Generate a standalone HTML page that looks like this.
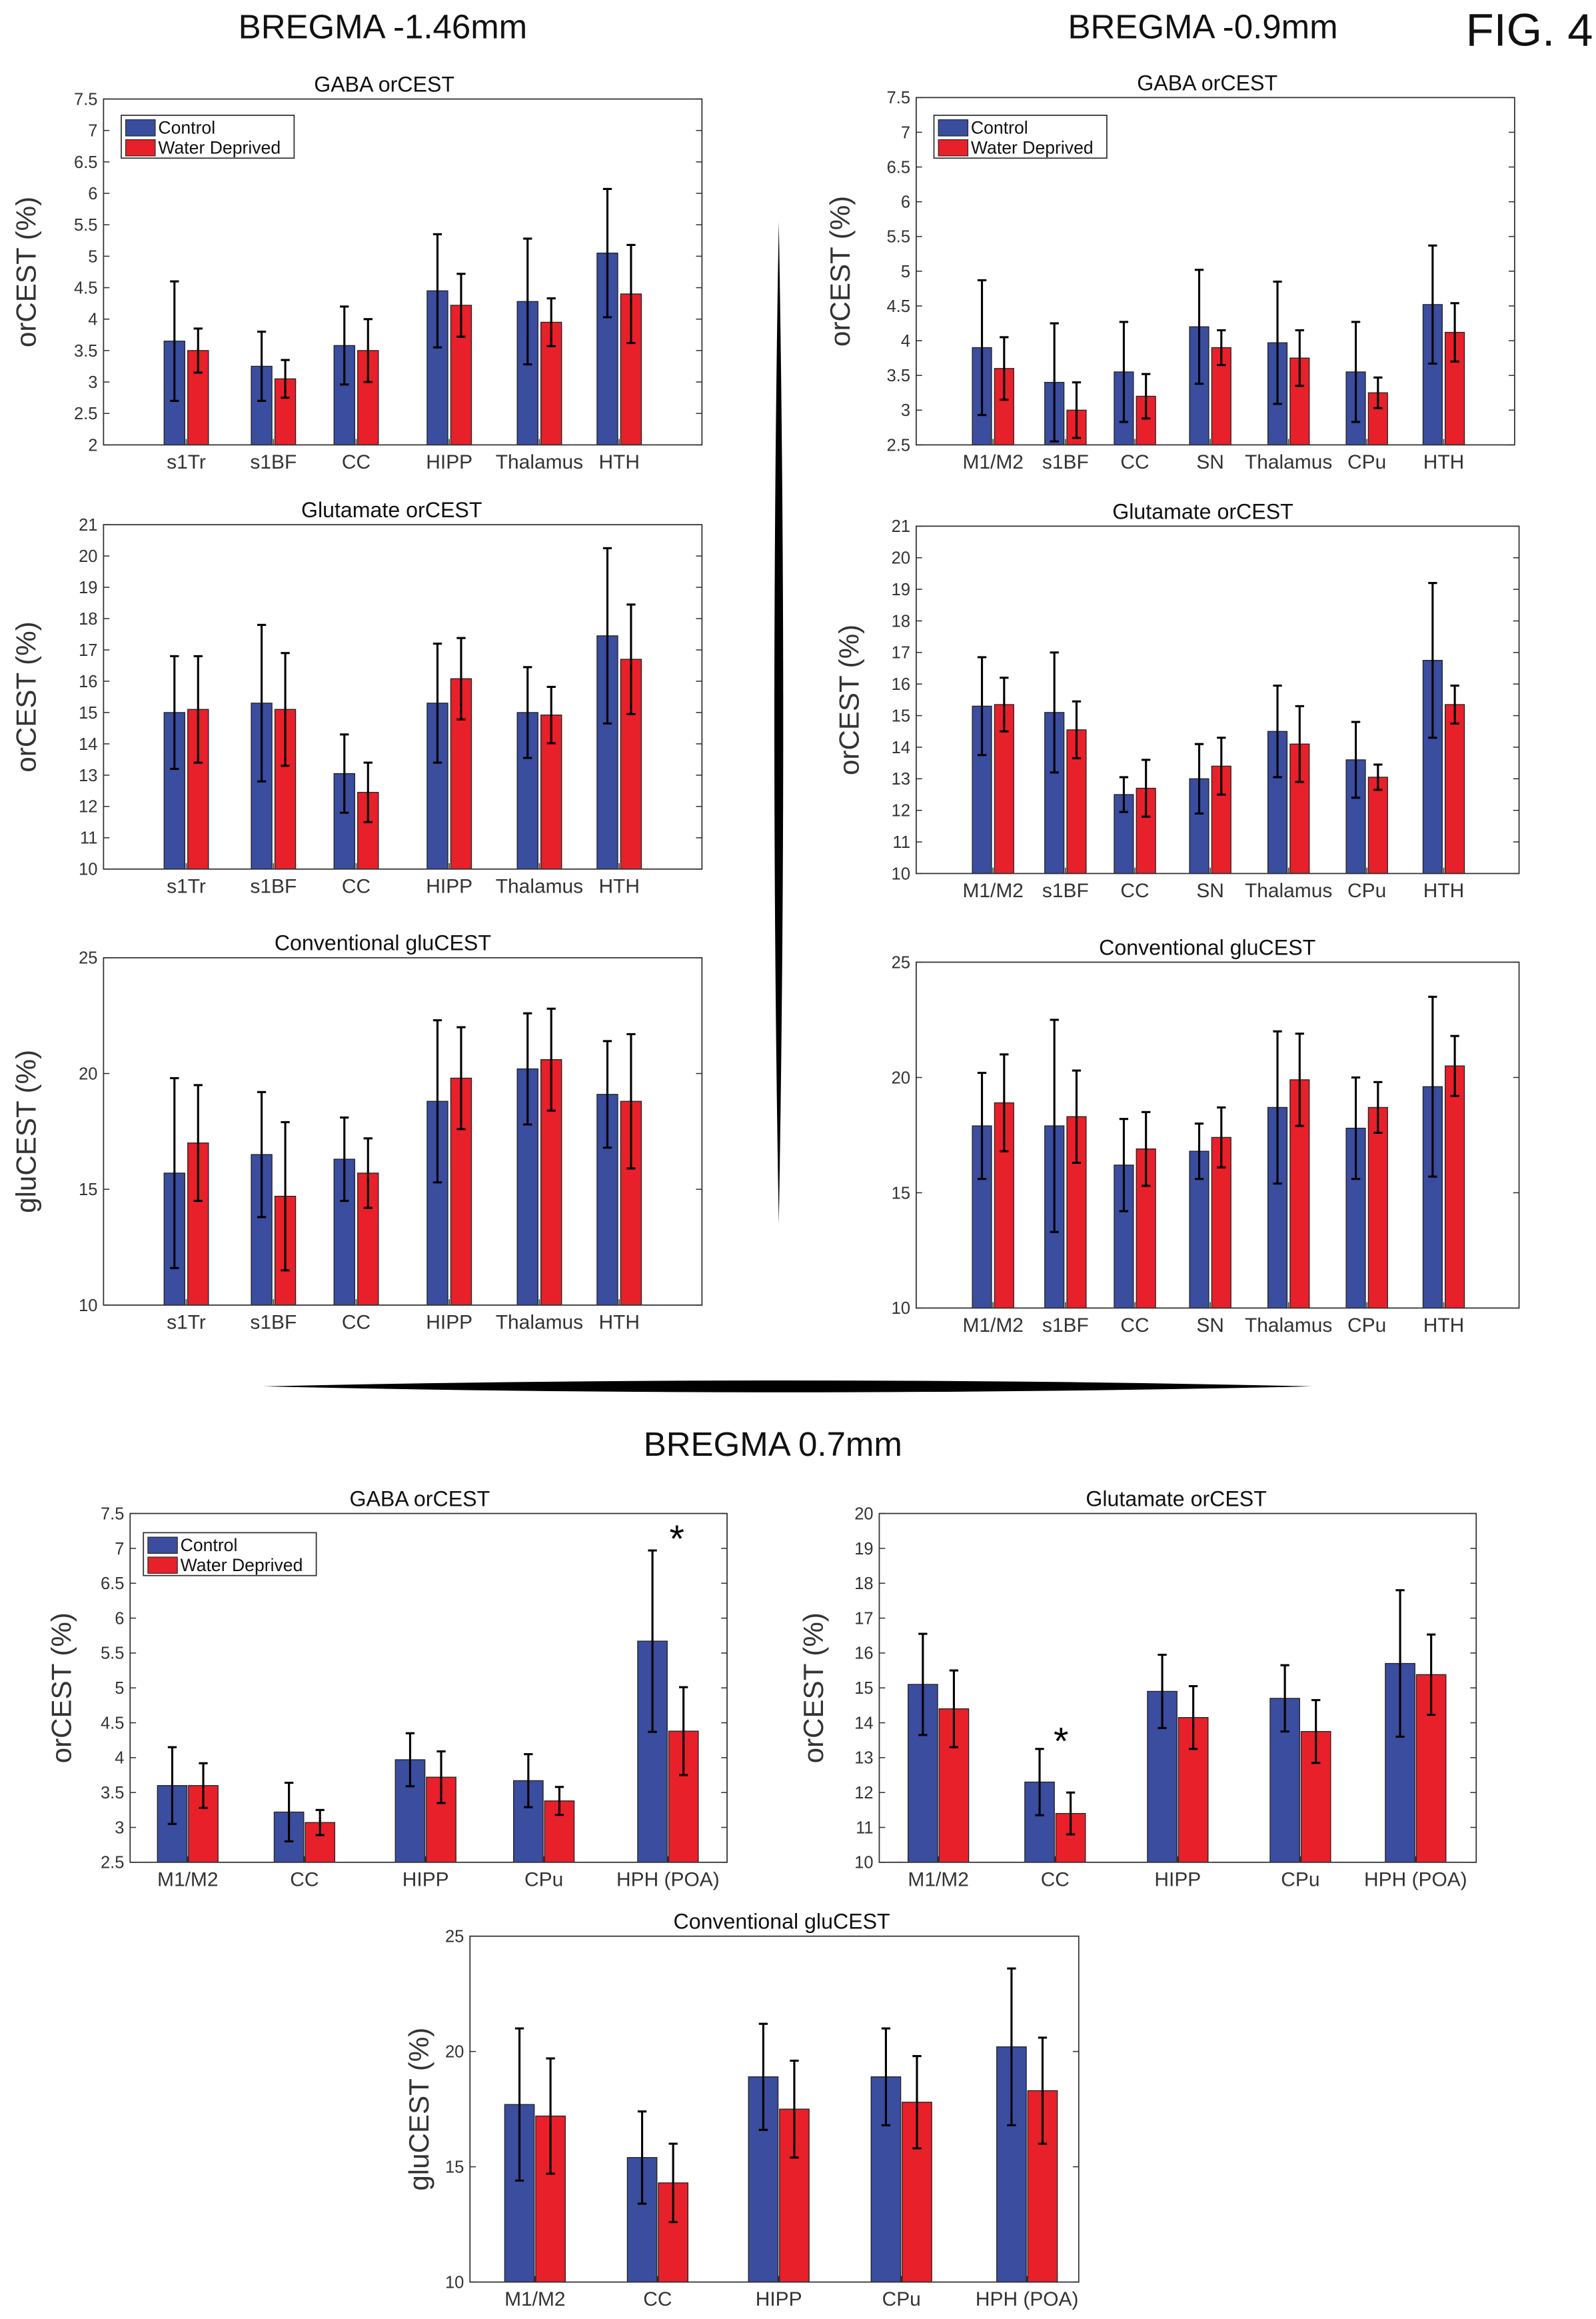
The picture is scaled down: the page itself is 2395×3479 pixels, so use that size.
<!DOCTYPE html>
<html><head><meta charset="utf-8">
<style>
html,body{margin:0;padding:0;background:#fff;}
svg{display:block;}
text{font-family:"Liberation Sans",sans-serif;}
</style></head>
<body>
<svg id="fig" width="2395" height="3479" viewBox="0 0 1080 1569" xmlns="http://www.w3.org/2000/svg">
<rect x="0" y="0" width="1080" height="1569" fill="#fff"/>
<text x="259" y="26" font-size="23" text-anchor="middle" fill="#111">BREGMA -1.46mm</text>
<text x="814" y="26" font-size="23" text-anchor="middle" fill="#111">BREGMA -0.9mm</text>
<text x="1035" y="31" font-size="31" text-anchor="middle" fill="#111">FIG. 4</text>
<text x="523" y="985" font-size="23" text-anchor="middle" fill="#111">BREGMA 0.7mm</text>
<path d="M527,150 Q533,489 527,828 Q521,489 527,150Z" fill="#000"/>
<path d="M178,938 Q533,930 888,938 Q533,946 178,938Z" fill="#000"/>
</svg>
<script>
// ---- Panel data ----
const catsA = ["s1Tr","s1BF","CC","HIPP","Thalamus","HTH"];
const catsB = ["M1/M2","s1BF","CC","SN","Thalamus","CPu","HTH"];
const catsC = ["M1/M2","CC","HIPP","CPu","HPH (POA)"];

const a1Ctrl = [3.65,3.25,3.58,4.45,4.28,5.05];
const a1CtrlErr = [0.95,0.55,0.62,0.9,1.0,1.02];
const a1Wd = [3.5,3.05,3.5,4.22,3.95,4.4];
const a1WdErr = [0.35,0.3,0.5,0.5,0.38,0.78];

const a2Ctrl = [15,15.3,13.05,15.3,15,17.45];
const a2CtrlErr = [1.8,2.5,1.25,1.9,1.45,2.8];
const a2Wd = [15.1,15.1,12.45,16.08,14.92,16.7];
const a2WdErr = [1.7,1.8,0.95,1.3,0.9,1.75];

const a3Ctrl = [15.7,16.5,16.3,18.8,20.2,19.1];
const a3CtrlErr = [4.1,2.7,1.8,3.5,2.4,2.3];
const a3Wd = [17,14.7,15.7,19.8,20.6,18.8];
const a3WdErr = [2.5,3.2,1.5,2.2,2.2,2.9];

const b1Ctrl = [3.9,3.4,3.55,4.2,3.97,3.55,4.52];
const b1CtrlErr = [0.97,0.85,0.72,0.82,0.88,0.72,0.85];
const b1Wd = [3.6,3.0,3.2,3.9,3.75,3.25,4.12];
const b1WdErr = [0.45,0.4,0.32,0.25,0.4,0.22,0.42];

const b2Ctrl = [15.3,15.1,12.5,13,14.5,13.6,16.75];
const b2CtrlErr = [1.55,1.9,0.55,1.1,1.45,1.2,2.45];
const b2Wd = [15.35,14.55,12.7,13.4,14.1,13.05,15.35];
const b2WdErr = [0.85,0.9,0.9,0.9,1.2,0.4,0.6];

const b3Ctrl = [17.9,17.9,16.2,16.8,18.7,17.8,19.6];
const b3CtrlErr = [2.3,4.6,2,1.2,3.3,2.2,3.9];
const b3Wd = [18.9,18.3,16.9,17.4,19.9,18.7,20.5];
const b3WdErr = [2.1,2,1.6,1.3,2,1.1,1.3];

const c1Ctrl = [3.6,3.22,3.97,3.67,5.67];
const c1CtrlErr = [0.55,0.42,0.38,0.38,1.3];
const c1Wd = [3.6,3.07,3.72,3.38,4.38];
const c1WdErr = [0.32,0.18,0.37,0.2,0.63];

const c2Ctrl = [15.1,12.3,14.9,14.7,15.7];
const c2CtrlErr = [1.45,0.95,1.05,0.95,2.1];
const c2Wd = [14.4,11.4,14.15,13.75,15.38];
const c2WdErr = [1.1,0.6,0.9,0.9,1.15];

const c3Ctrl = [17.7,15.4,18.9,18.9,20.2];
const c3CtrlErr = [3.3,2,2.3,2.1,3.4];
const c3Wd = [17.2,14.3,17.5,17.8,18.3];
const c3WdErr = [2.5,1.7,2.1,2,2.3];

const ticksGabaA = [2,2.5,3,3.5,4,4.5,5,5.5,6,6.5,7,7.5];
const ticksGaba = [2.5,3,3.5,4,4.5,5,5.5,6,6.5,7,7.5];
const ticksGlu21 = [10,11,12,13,14,15,16,17,18,19,20,21];
const ticksGlu20 = [10,11,12,13,14,15,16,17,18,19,20];
const ticksConv = [10,15,20,25];

const NS="http://www.w3.org/2000/svg";
const svg=document.getElementById('fig');
function mk(tag,attrs,parent){const e=document.createElementNS(NS,tag);for(const k in attrs)e.setAttribute(k,attrs[k]);(parent||svg).appendChild(e);return e;}
const BLUE="#3a4d9f", RED="#e8202a";

function panel(p){
  const g=mk('g',{});
  
  
  const ymin=p.ticks[0], ymax=p.ticks[p.ticks.length-1];
  const ys=v=>p.y1-(v-ymin)/(ymax-ymin)*(p.y1-p.y0);
  const t=mk('text',{x:p.tx,y:p.y0-5,'font-size':14.5,'text-anchor':'middle',fill:'#111'},g);
  t.textContent=p.title;
  
  
  const yl=mk('text',{x:0,y:0,'font-size':19,'text-anchor':'middle',fill:'#333',transform:`translate(${p.ylx},${(p.y0+p.y1)/2}) rotate(-90)`},g);
  yl.textContent=p.ylabel;
  
  
  p.ticks.forEach(v=>{
    const y=ys(v);
    mk('line',{x1:p.x0,x2:p.x0+4,y1:y,y2:y,stroke:'#333','stroke-width':0.7},g);
    mk('line',{x1:p.x1,x2:p.x1-4,y1:y,y2:y,stroke:'#333','stroke-width':0.7},g);
    const tl=mk('text',{x:p.x0-4,y:y+4,'font-size':11.5,'text-anchor':'end',fill:'#333'},g);
    tl.textContent=String(v);
    
    
  });
  p.cats.forEach((c,i)=>{
    const cx=p.cx[i];
    const series=[[p.ctrl,p.ctrlErr,BLUE,-p.off,'control'],[p.wd,p.wdErr,RED,p.off,'water-deprived']];
    series.forEach(s=>{
      const v=s[0][i], e=s[1][i], x=cx+s[3]-p.bw/2;
      const r=mk('rect',{x:x,y:ys(v),width:p.bw,height:p.y1-ys(v),fill:s[2],stroke:'#222','stroke-width':0.6},g);
      
      
      const bx=cx+s[3];
      mk('line',{x1:bx,x2:bx,y1:ys(v+e),y2:ys(v-e),stroke:'#000','stroke-width':1.4},g);
      mk('line',{x1:bx-3,x2:bx+3,y1:ys(v+e),y2:ys(v+e),stroke:'#000','stroke-width':1.4},g);
      mk('line',{x1:bx-3,x2:bx+3,y1:ys(v-e),y2:ys(v-e),stroke:'#000','stroke-width':1.4},g);
    });
    mk('line',{x1:cx,x2:cx,y1:p.y1,y2:p.y1-4,stroke:'#333','stroke-width':0.7},g);
    const cl=mk('text',{x:cx,y:p.y1+16,'font-size':13.5,'text-anchor':'middle',fill:'#333'},g);
    cl.textContent=c;
    
    
  });
  mk('rect',{x:p.x0,y:p.y0,width:p.x1-p.x0,height:p.y1-p.y0,fill:'none',stroke:'#333','stroke-width':0.8},g);
  if(p.legend){
    const [lx,ly]=p.legend;
    const lg=mk('g',{},g);
    
    
    mk('rect',{x:lx,y:ly,width:117,height:29,fill:'#fff',stroke:'#333','stroke-width':0.8},lg);
    [[BLUE,'Control'],[RED,'Water Deprived']].forEach((it,k)=>{
      mk('rect',{x:lx+3,y:ly+3+k*13.5,width:20,height:11,fill:it[0],stroke:'#222','stroke-width':0.5},lg);
      const tt=mk('text',{x:lx+25,y:ly+12.5+k*13.5,'font-size':12,fill:'#111'},lg);
      tt.textContent=it[1];
      
      
    });
  }
  if(p.star){
    const st=mk('text',{x:p.cx[p.star[0]]+p.star[1],y:ys(p.star[2]),'font-size':26,'text-anchor':'middle',fill:'#000'},g);
    st.textContent='*';
    
    
  }
}
const cxA=[126,185,241,304,365,419], cxB=[672,721,768,819,872,925,977];
panel({name:'gaba-orcest-bregma-146',title:'GABA orCEST',tx:260,ylabel:'orCEST (%)',ylx:24,x0:70,x1:475,y0:67,y1:301,ticks:ticksGabaA,cats:catsA,cx:cxA,bw:14,off:8,ctrl:a1Ctrl,ctrlErr:a1CtrlErr,wd:a1Wd,wdErr:a1WdErr,legend:[82,78]});
panel({name:'glutamate-orcest-bregma-146',title:'Glutamate orCEST',tx:265,ylabel:'orCEST (%)',ylx:24,x0:70,x1:475,y0:355,y1:588,ticks:ticksGlu21,cats:catsA,cx:cxA,bw:14,off:8,ctrl:a2Ctrl,ctrlErr:a2CtrlErr,wd:a2Wd,wdErr:a2WdErr});
panel({name:'conventional-glucest-bregma-146',title:'Conventional gluCEST',tx:259,ylabel:'gluCEST (%)',ylx:24,x0:70,x1:475,y0:648,y1:883,ticks:ticksConv,cats:catsA,cx:cxA,bw:14,off:8,ctrl:a3Ctrl,ctrlErr:a3CtrlErr,wd:a3Wd,wdErr:a3WdErr});
panel({name:'gaba-orcest-bregma-09',title:'GABA orCEST',tx:817,ylabel:'orCEST (%)',ylx:575,x0:620,x1:1025,y0:66,y1:301,ticks:ticksGaba,cats:catsB,cx:cxB,bw:13,off:7.5,ctrl:b1Ctrl,ctrlErr:b1CtrlErr,wd:b1Wd,wdErr:b1WdErr,legend:[632,78]});
panel({name:'glutamate-orcest-bregma-09',title:'Glutamate orCEST',tx:814,ylabel:'orCEST (%)',ylx:581,x0:620,x1:1028,y0:356,y1:591,ticks:ticksGlu21,cats:catsB,cx:cxB,bw:13,off:7.5,ctrl:b2Ctrl,ctrlErr:b2CtrlErr,wd:b2Wd,wdErr:b2WdErr});
panel({name:'conventional-glucest-bregma-09',title:'Conventional gluCEST',tx:817,ylabel:'',ylx:575,x0:620,x1:1028,y0:651,y1:885,ticks:ticksConv,cats:catsB,cx:cxB,bw:13,off:7.5,ctrl:b3Ctrl,ctrlErr:b3CtrlErr,wd:b3Wd,wdErr:b3WdErr});
panel({name:'gaba-orcest-bregma-07',title:'GABA orCEST',tx:284,ylabel:'orCEST (%)',ylx:48,x0:88,x1:492,y0:1024,y1:1260,ticks:ticksGaba,cats:catsC,cx:[127,206,288,368,452],bw:20,off:10.5,ctrl:c1Ctrl,ctrlErr:c1CtrlErr,wd:c1Wd,wdErr:c1WdErr,legend:[97,1037],star:[4,6,6.95]});
panel({name:'glutamate-orcest-bregma-07',title:'Glutamate orCEST',tx:796,ylabel:'orCEST (%)',ylx:557,x0:595,x1:999,y0:1024,y1:1260,ticks:ticksGlu20,cats:catsC,cx:[635,714,797,880,958],bw:20,off:10.5,ctrl:c2Ctrl,ctrlErr:c2CtrlErr,wd:c2Wd,wdErr:c2WdErr,star:[1,4,13.1]});
panel({name:'conventional-glucest-bregma-07',title:'Conventional gluCEST',tx:529,ylabel:'gluCEST (%)',ylx:290,x0:318,x1:730,y0:1310,y1:1544,ticks:ticksConv,cats:catsC,cx:[362,445,527,610,695],bw:20,off:10.5,ctrl:c3Ctrl,ctrlErr:c3CtrlErr,wd:c3Wd,wdErr:c3WdErr});
</script>
</body></html>
